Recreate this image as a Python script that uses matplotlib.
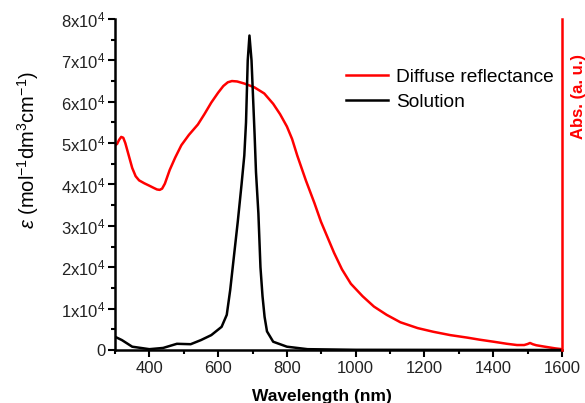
import matplotlib
matplotlib.use("Agg")
import matplotlib.pyplot as plt
from matplotlib.ticker import MultipleLocator, FixedLocator, FixedFormatter

plt.rcParams['font.family'] = ['Liberation Sans', 'DejaVu Sans']
plt.rcParams['mathtext.fontset'] = 'custom'
plt.rcParams['mathtext.rm'] = 'Liberation Sans'
plt.rcParams['mathtext.it'] = 'Liberation Sans:italic'
plt.rcParams['mathtext.bf'] = 'Liberation Sans:bold'

# Diffuse reflectance (plotted on the left scale for shape)
refl_wl = [300, 306, 312, 318, 324, 330, 340, 350, 360, 370, 385, 400, 412, 422, 430, 437,
           445, 459, 475, 493, 515, 541, 560, 580, 600, 615, 628, 640, 655, 676, 705,
           734, 760, 780, 800, 815, 830, 855, 880, 899, 937, 960, 986, 1020, 1053, 1090,
           1130, 1180, 1226, 1275, 1324, 1360, 1401, 1440, 1469, 1490, 1500, 1507, 1515,
           1525, 1550, 1580, 1600]
refl_val = [49500, 49800, 50800, 51500, 51300, 50000, 47000, 44000, 42000, 41000, 40300,
            39700, 39200, 38800, 38700, 39000, 40200, 43500, 46500, 49500, 52000, 54500,
            57000, 59800, 62200, 63800, 64700, 65000, 64900, 64400, 63500, 62000, 59500,
            57000, 54000, 51000, 47000, 41000, 35500, 31000, 23500, 19500, 16000, 13000,
            10500, 8500, 6700, 5300, 4400, 3600, 3000, 2500, 2000, 1500, 1200, 1200,
            1450, 1700, 1400, 1150, 800, 400, 200]

# Solution spectrum
sol_wl = [300, 320, 350, 400, 440, 480, 520, 550, 580, 610, 625, 635, 645, 657, 668,
          676, 681, 686, 691, 697, 702, 706, 710, 717, 723, 729, 735, 742, 760, 800,
          860, 1000, 1600]
sol_val = [3200, 2400, 800, 200, 500, 1500, 1400, 2400, 3600, 5600, 8500, 14500, 22000,
           31000, 40000, 47000, 55000, 70000, 76000, 70000, 60000, 52000, 43000, 33000,
           20000, 13000, 8000, 4500, 2000, 800, 200, 50, 0]

y_ticks = [0, 10000, 20000, 30000, 40000, 50000, 60000, 70000, 80000]
y_labels = ['0'] + [r'$%d\mathrm{x}10^4$' % i for i in range(1, 9)]

fig = plt.figure(figsize=(5.85, 4.03), dpi=100)
ax = fig.add_axes([0.1966, 0.1315, 0.7641, 0.8214])

ax.plot(refl_wl, refl_val, color='#ff0000', lw=1.8, label='Diffuse reflectance')
ax.plot(sol_wl, sol_val, color='black', lw=1.8, label='Solution')

ax.set_xlim(300, 1600)
ax.set_ylim(0, 80000)
ax.xaxis.set_major_locator(MultipleLocator(200))
ax.xaxis.set_minor_locator(MultipleLocator(100))
ax.yaxis.set_major_locator(FixedLocator(y_ticks))
ax.yaxis.set_major_formatter(FixedFormatter(y_labels))
ax.yaxis.set_minor_locator(MultipleLocator(5000))
ax.tick_params(axis='both', which='major', direction='out', length=5, width=1.5,
               labelsize=12, colors='black')
ax.tick_params(axis='both', which='minor', direction='out', length=3, width=1.5)
ax.tick_params(axis='y', pad=2)
ax.tick_params(axis='x', pad=3)
for lab in ax.get_xticklabels() + ax.get_yticklabels():
    lab.set_color('#222222')

ax.spines['top'].set_visible(False)
ax.spines['right'].set_visible(False)
ax.spines['left'].set_linewidth(1.8)
ax.spines['bottom'].set_linewidth(1.8)

ax.set_xlabel('Wavelength (nm)', fontsize=12.5, fontweight='bold')
ax.xaxis.set_label_coords((322 - 115) / 447, -(396 - 350) / 330)
ax.xaxis.label.set_va('center')
ax.set_ylabel(r'$\epsilon$ (mol$^{-1}$dm$^{3}$cm$^{-1}$)', fontsize=14.5)
ax.yaxis.set_label_coords((28 - 115) / 447, (350 - 151) / 330)
ax.yaxis.label.set_va('center')

ax2 = ax.twinx()
ax2.set_ylim(0, 80000)
ax2.set_yticks([])
ax2.spines['top'].set_visible(False)
ax2.spines['left'].set_visible(False)
ax2.spines['bottom'].set_visible(False)
ax2.spines['right'].set_color('#ff0000')
ax2.spines['right'].set_linewidth(1.8)
ax2.set_ylabel('Abs. (a. u.)', color='#ff0000', fontsize=12, fontweight='bold')
ax2.yaxis.set_label_coords((578 - 115) / 447, (350 - 97) / 330)
ax2.yaxis.label.set_va('center')

leg = ax.legend(loc='upper left', bbox_to_anchor=((346 - 115) / 447, (350 - 69) / 330),
                frameon=False, fontsize=13.8, handlelength=2.2, handletextpad=0.4,
                labelspacing=0.4, borderaxespad=0, borderpad=0)

fig.savefig('out.png', dpi=100)
